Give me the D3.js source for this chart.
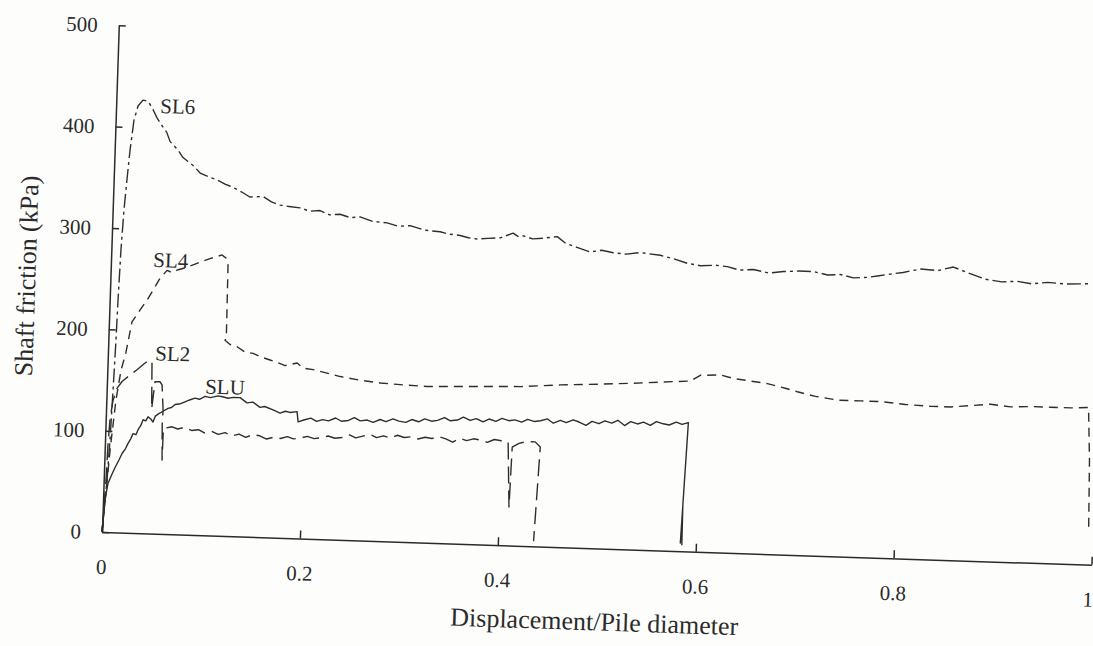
<!DOCTYPE html>
<html>
<head>
<meta charset="utf-8">
<script src="https://cdn.jsdelivr.net/npm/d3@7"></script>
<style>
  html, body { margin: 0; padding: 0; background: #fdfdfc; }
  svg { display: block; }
  .axis path, .axis line { stroke: #2b2b2b; stroke-width: 1.5; }
  .title { font-family: "Liberation Serif", "Times New Roman", serif; font-size: 26px; fill: #2b2b2b; }
  .tag { font-family: "Liberation Serif", "Times New Roman", serif; font-size: 21px; fill: #2b2b2b; }
</style>
</head>
<body>
<div id="chart"></div>
<script>
// displacement / pile diameter vs shaft friction (kPa)
const xTicks = [0, 0.2, 0.4, 0.6, 0.8, 1];
const yTicks = [0, 100, 200, 300, 400, 500];
const xTitle = 'Displacement/Pile diameter';
const yTitle = 'Shaft friction (kPa)';

const sl6 = [[0,0],[0.0033,51],[0.005,91],[0.0064,140],[0.0077,190],[0.0084,229],[0.0097,279],[0.0114,318],
  [0.0134,348],[0.0155,377],[0.0185,407],[0.0221,421],[0.0269,427],[0.032,426],[0.0363,420],[0.0417,410],
  [0.048,401],[0.052,396],[0.0557,387],[0.064,379],[0.069,372],[0.0744,368],[0.08,364],[0.087,357],[0.0972,353],
  [0.104,351],[0.1126,347],[0.118,345],[0.1249,342],[0.131,339],[0.138,335],[0.1514,336],[0.16,331],[0.1688,328],
  [0.178,327],[0.189,326],[0.199,323],[0.2094,324],[0.219,320],[0.2297,321],[0.24,318],[0.25,319],[0.263,315],
  [0.2775,314],[0.289,311],[0.3008,312],[0.316,308],[0.3313,307],[0.34,305],[0.3517,304],[0.36,302],[0.369,301],
  [0.38,302],[0.3922,303],[0.4051,308],[0.41,305],[0.4143,306],[0.425,303],[0.4356,304],[0.4497,306],[0.458,300],
  [0.47,296],[0.4835,292],[0.495,294],[0.5068,292],[0.52,291],[0.5341,293],[0.5543,291],[0.568,288],[0.5819,284],
  [0.5951,282],[0.61,283],[0.6224,282],[0.635,279],[0.6488,280],[0.665,277],[0.6792,279],[0.695,280],[0.7095,280],
  [0.724,277],[0.7369,278],[0.75,275],[0.7642,276],[0.776,278],[0.7873,280],[0.8,282],[0.8175,286],[0.835,285],
  [0.8507,289],[0.865,284],[0.8834,278],[0.9,276],[0.9159,277],[0.93,275],[0.9462,277],[0.965,276],[0.9897,277]];

const sl4 = [[0,0],[0.002,30],[0.0054,81],[0.0097,131],[0.0138,160],[0.0182,178],[0.0232,208],[0.0309,220],
  [0.0377,230],[0.0434,240],[0.0501,252],[0.0569,260],[0.062,258],[0.068,261],[0.075,263],[0.08,265],[0.085,267],
  [0.092,270],[0.0999,273],[0.106,275],[0.1119,277],[0.1161,274],[0.1183,267],[0.119,196],[0.1178,193],[0.123,189],
  [0.1302,187],[0.1384,182],[0.1466,181],[0.1537,178],[0.1639,175],[0.1711,173],[0.1793,170],[0.1913,173],
  [0.1976,168],[0.2077,167],[0.2219,164],[0.2353,161],[0.2556,158],[0.2759,156],[0.2961,155],[0.3234,154],
  [0.3537,155],[0.384,156],[0.4174,157],[0.4577,160],[0.4981,162],[0.5314,164],[0.5586,166],[0.5889,168],
  [0.5988,174],[0.619,175],[0.6322,172],[0.6495,170],[0.6668,168],[0.685,164],[0.6973,161],[0.7157,157],
  [0.739,154],[0.7613,154],[0.7815,154],[0.8068,152],[0.8321,151],[0.8524,151],[0.8725,153],[0.8927,155],
  [0.913,153],[0.9332,154],[0.9534,154],[0.9736,154],[0.9918,155],[0.9945,103],[0.996,34]];

const sl2 = [[0,0],[0.0006,12],[0.0023,51],[0.0031,86],[0.0043,111],[0.0067,130],[0.0103,142],[0.0152,149],
  [0.0211,154],[0.0299,161],[0.0378,168],[0.0427,171],[0.0448,169],[0.046,123],[0.0485,150],[0.0535,150],
  [0.0557,147],[0.0576,122],[0.0572,108],[0.0582,73],[0.0585,104],[0.0672,106],[0.073,104],[0.08,106],
  [0.087,103],[0.094,104],[0.1,101],[0.107,103],[0.114,100],[0.121,102],[0.128,99],[0.135,101],[0.142,98],
  [0.149,101],[0.156,100],[0.163,97],[0.17,99],[0.177,98],[0.184,100],[0.19,98],[0.197,99],[0.204,101],
  [0.211,99],[0.218,100],[0.225,102],[0.232,100],[0.239,101],[0.246,104],[0.253,101],[0.26,103],[0.267,105],
  [0.274,102],[0.281,104],[0.288,102],[0.295,105],[0.302,103],[0.309,104],[0.316,102],[0.323,104],[0.33,103],
  [0.337,105],[0.344,103],[0.351,100],[0.358,104],[0.365,102],[0.372,104],[0.379,103],[0.386,101],[0.393,104],
  [0.4,103],[0.407,102],[0.41,38],[0.4113,97],[0.418,101],[0.426,103],[0.4343,103],[0.4396,98],[0.436,5]];

const slu = [[0,0],[0.002,32],[0.0044,48],[0.008,57],[0.011,64],[0.0145,71],[0.0176,78],[0.021,83],[0.0232,88],
  [0.026,93],[0.028,98],[0.031,97],[0.033,102],[0.0355,106],[0.0377,112],[0.0405,111],[0.0426,115],[0.0455,113],
  [0.0478,110],[0.05,116],[0.0526,118],[0.0576,121],[0.0625,124],[0.066,125],[0.0695,128],[0.075,129],
  [0.0795,131],[0.084,133],[0.0894,135],[0.094,134],[0.0995,137],[0.105,136],[0.1126,138],[0.118,137],
  [0.1228,136],[0.128,137],[0.1349,137],[0.1421,132],[0.148,133],[0.1554,128],[0.16,129],[0.1686,126],
  [0.1758,123],[0.181,125],[0.1859,124],[0.1929,125],[0.1943,115],[0.2,117],[0.207,119],[0.213,116],[0.219,118],
  [0.225,117],[0.232,120],[0.238,117],[0.245,118],[0.251,121],[0.257,118],[0.264,119],[0.27,117],[0.277,120],
  [0.283,118],[0.29,121],[0.296,119],[0.303,118],[0.309,121],[0.316,119],[0.322,122],[0.329,120],[0.335,121],
  [0.342,124],[0.348,121],[0.355,122],[0.361,125],[0.368,122],[0.374,124],[0.381,121],[0.387,124],[0.394,122],
  [0.4,125],[0.407,123],[0.413,124],[0.42,122],[0.426,125],[0.433,123],[0.439,124],[0.446,126],[0.452,122],
  [0.459,125],[0.465,123],[0.472,126],[0.478,124],[0.485,121],[0.491,125],[0.498,123],[0.504,126],[0.511,124],
  [0.517,127],[0.524,122],[0.53,126],[0.537,124],[0.543,126],[0.55,123],[0.556,127],[0.563,125],[0.569,124],
  [0.576,127],[0.582,125],[0.5883,127],[0.5842,8],[0.5855,44],[0.5858,6]];

const seriesNames = ['SL6', 'SL4', 'SL2', 'SLU'];
const seriesData = [sl6, sl4, sl2, slu];
const seriesDash = ['14,4,3,4', '9,6', '17,7', null];
// where each curve name sits, in data units
const tagPos = [[0.0445, 415], [0.0426, 263], [0.0478, 171], [0.0993, 140]];

const width = 1093;
const height = 646;
const serif = '"Liberation Serif", "Times New Roman", serif';

const svg = d3.select('#chart').append('svg')
  .attr('width', width)
  .attr('height', height);

// the scanned figure is turned a little clockwise
const plot = svg.append('g')
  .attr('transform', 'translate(102,532) rotate(1.9)');

const x = d3.scaleLinear().domain([0, 1]).range([0, 990]);
const y = d3.scaleLinear().domain([0, 500]).range([0, -507]);

const xAxis = plot.append('g')
  .attr('class', 'axis')
  .call(d3.axisBottom(x)
    .tickValues(xTicks)
    .tickFormat(d => (d === 0 || d === 1) ? String(d) : d.toFixed(1))
    .tickSizeInner(-8)
    .tickSizeOuter(0)
    .tickPadding(27));

const yAxis = plot.append('g')
  .attr('class', 'axis')
  .call(d3.axisLeft(y)
    .tickValues(yTicks)
    .tickSizeInner(-7)
    .tickSizeOuter(0)
    .tickPadding(21));

[xAxis, yAxis].forEach(a => {
  a.attr('font-family', serif).attr('font-size', 21);
  a.selectAll('text')
    .style('font-family', serif)
    .style('font-size', '21px')
    .style('fill', '#2b2b2b');
});

// the last label sits right at the page edge
xAxis.selectAll('.tick text').filter(d => d === 1).attr('dx', -3);

const line = d3.line()
  .x(d => x(d[0]))
  .y(d => y(d[1]));

seriesData.forEach((data, i) => {
  plot.append('path')
    .datum(data)
    .attr('fill', 'none')
    .attr('stroke', '#2e2e2e')
    .attr('stroke-width', 1.4)
    .attr('stroke-linejoin', 'round')
    .attr('stroke-dasharray', seriesDash[i])
    .attr('d', line);

  plot.append('text')
    .attr('class', 'tag')
    .attr('x', x(tagPos[i][0]))
    .attr('y', y(tagPos[i][1]))
    .text(seriesNames[i]);
});

plot.append('text')
  .attr('class', 'title')
  .attr('text-anchor', 'middle')
  .attr('x', x(0.5))
  .attr('y', 82)
  .text(xTitle);

plot.append('text')
  .attr('class', 'title')
  .attr('text-anchor', 'middle')
  .attr('transform', `translate(-75,${y(250)}) rotate(-90)`)
  .text(yTitle);
</script>
</body>
</html>
